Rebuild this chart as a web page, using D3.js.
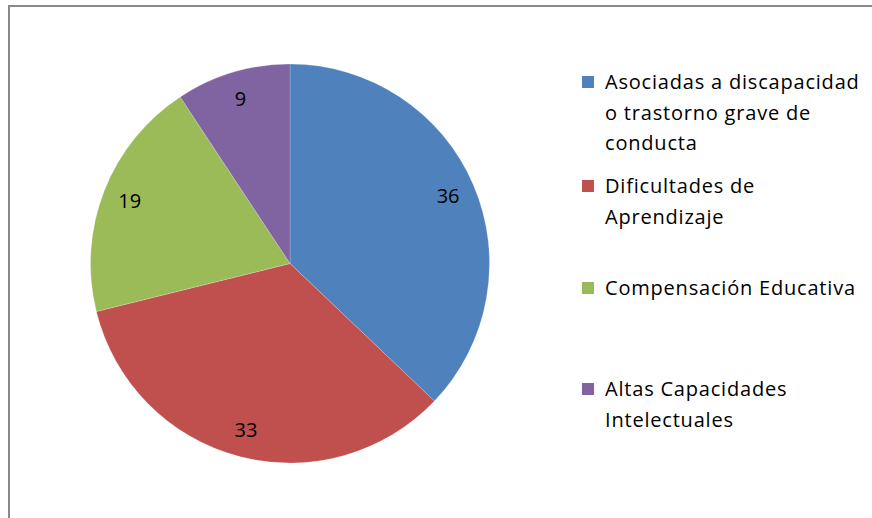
<!DOCTYPE html>
<html><head><meta charset="utf-8">
<script src="https://cdn.jsdelivr.net/npm/d3@7"></script>
<style>html,body{margin:0;padding:0;background:#fff;}svg{display:block;}</style>
</head><body>
<svg id="c" width="872" height="518"></svg>
<script>
const categories = ["Asociadas a discapacidad o trastorno grave de conducta", "Dificultades de Aprendizaje", "Compensación Educativa", "Altas Capacidades Intelectuales"];
const values = [36, 33, 19, 9];
const colors = ["#4F81BD", "#C0504D", "#9BBB59", "#8064A2"];
const legendLines = [["Asociadas a discapacidad", "o trastorno grave de", "conducta"], ["Dificultades de", "Aprendizaje"], ["Compensación Educativa"], ["Altas Capacidades", "Intelectuales"]];

const svg = d3.select("#c");
const font = "'Open Sans', sans-serif";
svg.append("rect").attr("x", 9).attr("y", 6).attr("width", 1000).attr("height", 1000)
  .attr("fill", "none").attr("stroke", "#898989").attr("stroke-width", 2);

const cx = 290, cy = 263.5, r = 199.5;
const g = svg.append("g").attr("transform", `translate(${cx},${cy})`);
const pie = d3.pie().sort(null).value(d => d)(values);
const arc = d3.arc().innerRadius(0).outerRadius(r);
g.selectAll("path").data(pie).join("path")
  .attr("d", arc).attr("fill", (d, i) => colors[i])
  .attr("stroke", "#ffffff").attr("stroke-opacity", 0.35).attr("stroke-width", 0.6);
const labelArc = d3.arc().innerRadius(172).outerRadius(172);
g.selectAll("text").data(pie).join("text")
  .attr("transform", d => `translate(${labelArc.centroid(d)})`)
  .attr("text-anchor", "middle").attr("dy", "0.36em")
  .style("font-family", font).style("font-size", "20px").attr("fill", "#000")
  .text(d => d.data);

const legendY = [82, 186, 288, 389];
const lg = svg.append("g");
legendLines.forEach((lines, i) => {
  lg.append("rect").attr("x", 582).attr("y", legendY[i] - 6).attr("width", 12).attr("height", 12).attr("fill", colors[i]);
  lines.forEach((t, j) => {
    lg.append("text").attr("x", 605).attr("y", legendY[i] + j * 30.5).attr("dy", "0.36em")
      .style("font-family", font).style("font-size", "20px").style("letter-spacing", "0.8px")
      .attr("fill", "#000").text(t);
  });
});
</script>
</body></html>
